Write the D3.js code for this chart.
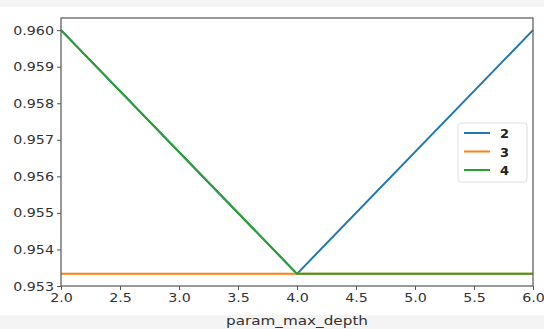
<!DOCTYPE html>
<html>
<head>
<meta charset="utf-8">
<script src="https://cdn.jsdelivr.net/npm/d3@7"></script>
<style>
  body { margin: 0; background: #fff; }
  svg { display: block; }
  text { font-family: "DejaVu Sans", sans-serif; }
</style>
</head>
<body>
<svg id="chart" width="544" height="329"></svg>
<script>
const depths = [2, 4, 6];
const seriesNames = ["2", "3", "4"];
const series2 = [0.96, 0.953333, 0.96];
const series3 = [0.953333, 0.953333, 0.953333];
const series4 = [0.96, 0.953333, 0.953333];
const xTicks = [2.0, 2.5, 3.0, 3.5, 4.0, 4.5, 5.0, 5.5, 6.0];
const yTicks = [0.953, 0.954, 0.955, 0.956, 0.957, 0.958, 0.959, 0.960];
const colors = ["#1f77b4", "#ff7f0e", "#2ca02c"];

const svg = d3.select("#chart");
const margin = { left: 61, right: 11, top: 18, bottom: 43 };
const width = 544, height = 329;

// the reference text looks horizontally stretched
function stretch(sel, k) {
  sel.each(function() {
    const len = this.getComputedTextLength();
    d3.select(this).attr("textLength", len * k).attr("lengthAdjust", "spacingAndGlyphs");
  });
}

// light grey bands from the screenshot
svg.append("rect").attr("x", 0).attr("y", 0).attr("width", width).attr("height", 7).attr("fill", "#f4f4f4");
svg.append("rect").attr("x", 0).attr("y", 315).attr("width", width).attr("height", 14).attr("fill", "#f4f4f4");

const x = d3.scaleLinear().domain([2, 6]).range([margin.left, width - margin.right]);
const y = d3.scaleLinear().domain([0.953, 0.960333]).range([height - margin.bottom, margin.top]);

const allSeries = [series2, series3, series4];
const line = d3.line().x((d, i) => x(depths[i])).y(d => y(d));

const g = svg.append("g");
allSeries.forEach((s, k) => {
  g.append("path")
    .datum(s)
    .attr("fill", "none")
    .attr("stroke", colors[k])
    .attr("stroke-width", 2)
    .attr("d", line);
});

// frame
svg.append("rect")
  .attr("x", margin.left).attr("y", margin.top)
  .attr("width", width - margin.left - margin.right)
  .attr("height", height - margin.top - margin.bottom)
  .attr("fill", "none").attr("stroke", "#555").attr("stroke-width", 1.2);

const xAxis = svg.append("g")
  .attr("transform", "translate(0," + (height - margin.bottom) + ")")
  .call(d3.axisBottom(x).tickValues(xTicks).tickFormat(d3.format(".1f")).tickSize(4).tickPadding(3));
const yAxis = svg.append("g")
  .attr("transform", "translate(" + margin.left + ",0)")
  .call(d3.axisLeft(y).tickValues(yTicks).tickFormat(d3.format(".3f")).tickSize(4).tickPadding(3));

[xAxis, yAxis].forEach(a => {
  a.select(".domain").remove();
  a.selectAll(".tick line").attr("stroke", "#555");
  a.selectAll(".tick text").attr("fill", "#333").style("font-size", "12.5px").call(stretch, 1.14);
});

svg.append("text")
  .attr("x", (margin.left + width - margin.right) / 2)
  .attr("y", 325)
  .attr("text-anchor", "middle")
  .attr("fill", "#333")
  .style("font-size", "13px")
  .text("param_max_depth")
  .call(stretch, 1.17);

// legend
const lg = svg.append("g").attr("transform", "translate(458,123)");
lg.append("rect").attr("width", 69).attr("height", 59).attr("rx", 3)
  .attr("fill", "#fff").attr("stroke", "#ddd");
seriesNames.forEach((n, k) => {
  const yy = 10 + k * 18.5;
  lg.append("line").attr("x1", 6).attr("x2", 32).attr("y1", yy).attr("y2", yy)
    .attr("stroke", colors[k]).attr("stroke-width", 2);
  lg.append("text").attr("x", 42).attr("y", yy + 5)
    .attr("fill", "#222").style("font-size", "13px").style("font-weight", "bold").text(n);
});
</script>
</body>
</html>
